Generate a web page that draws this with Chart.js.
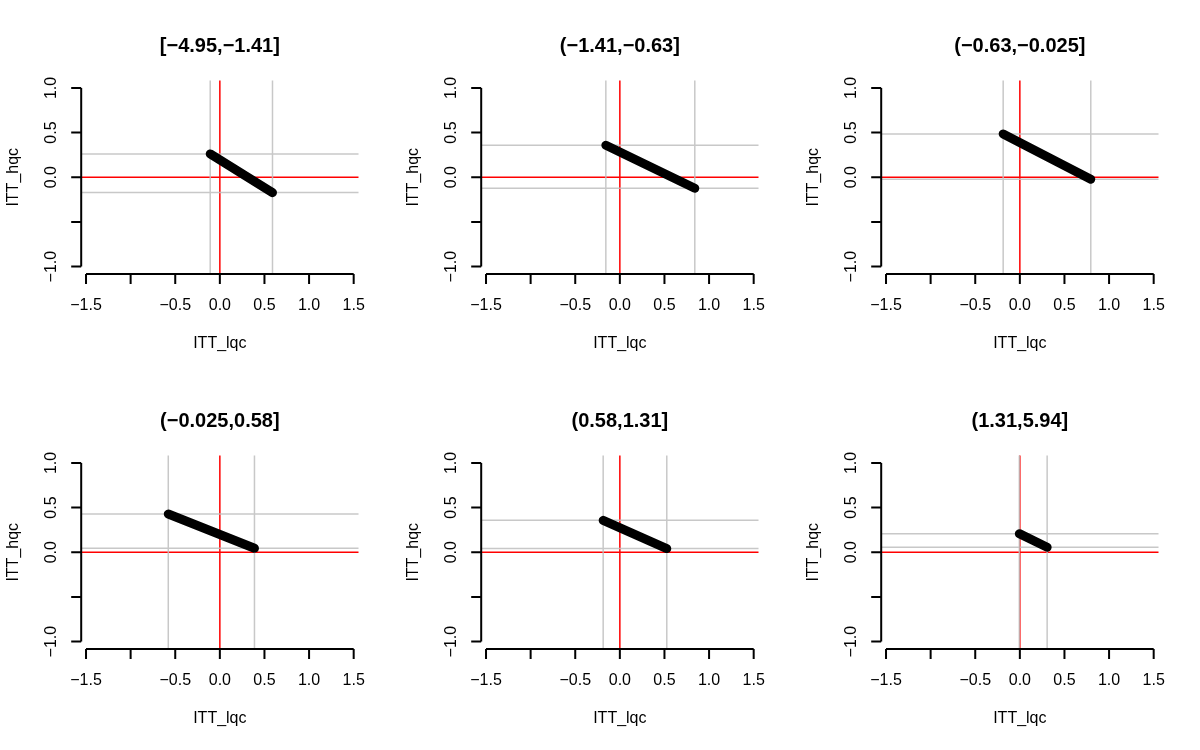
<!DOCTYPE html>
<html lang="en">

<head>
    <meta charset="UTF-8">
    <title>ITT_hqc vs ITT_lqc</title>
    <script src="https://cdn.jsdelivr.net/npm/chart.js"></script>
    <style>
        body {
            margin: 0;
            background: #ffffff;
        }
        #grid {
            position: relative;
            width: 1200px;
            height: 750px;
        }
        #grid canvas {
            position: absolute;
        }
    </style>
</head>

<body>

    <div id="grid"></div>

    <script>
        // panel data
        const panelTitles = ['[−4.95,−1.41]', '(−1.41,−0.63]', '(−0.63,−0.025]',
                             '(−0.025,0.58]', '(0.58,1.31]', '(1.31,5.94]'];
        const lqcStart = [-0.108, -0.157, -0.187, -0.578, -0.187, -0.006];
        const lqcEnd   = [0.590, 0.840, 0.795, 0.388, 0.526, 0.306];
        const hqcStart = [0.261, 0.358, 0.485, 0.428, 0.357, 0.208];
        const hqcEnd   = [-0.172, -0.123, -0.022, 0.045, 0.041, 0.056];

        const xTicks = [-1.5, -1.0, -0.5, 0, 0.5, 1.0, 1.5];
        const xTickLabels = ['−1.5', '', '−0.5', '0.0', '0.5', '1.0', '1.5'];
        const yTicks = [-1.0, -0.5, 0, 0.5, 1.0];
        const yTickLabels = ['−1.0', '', '0.0', '0.5', '1.0'];

        const xLabel = 'ITT_lqc';
        const yLabel = 'ITT_hqc';

        const FONT = '"Liberation Sans", Arial, Helvetica, sans-serif';

        // R style axes, reference lines and titles
        const rStyle = {
            id: 'rStyle',
            beforeDatasetsDraw(chart, args, opts) {
                const { ctx, chartArea: a, scales: { x, y } } = chart;
                const i = opts.panel;
                ctx.save();
                ctx.lineWidth = 1.5;
                // red zero lines
                ctx.strokeStyle = '#ff0000';
                ctx.beginPath();
                ctx.moveTo(x.getPixelForValue(0), a.top);
                ctx.lineTo(x.getPixelForValue(0), a.bottom);
                ctx.moveTo(a.left, y.getPixelForValue(0));
                ctx.lineTo(a.right, y.getPixelForValue(0));
                ctx.stroke();
                // gray lines through the segment ends
                ctx.strokeStyle = 'rgba(190,190,190,0.85)';
                ctx.beginPath();
                [lqcStart[i], lqcEnd[i]].forEach(v => {
                    ctx.moveTo(x.getPixelForValue(v), a.top);
                    ctx.lineTo(x.getPixelForValue(v), a.bottom);
                });
                [hqcStart[i], hqcEnd[i]].forEach(v => {
                    ctx.moveTo(a.left, y.getPixelForValue(v));
                    ctx.lineTo(a.right, y.getPixelForValue(v));
                });
                ctx.stroke();
                ctx.restore();
            },
            afterDraw(chart, args, opts) {
                const { ctx, chartArea: a, scales: { x, y } } = chart;
                const i = opts.panel;
                ctx.save();
                ctx.strokeStyle = '#000000';
                ctx.fillStyle = '#000000';
                ctx.lineWidth = 2;

                // x axis
                ctx.beginPath();
                ctx.moveTo(x.getPixelForValue(xTicks[0]), a.bottom);
                ctx.lineTo(x.getPixelForValue(xTicks[xTicks.length - 1]), a.bottom);
                xTicks.forEach(t => {
                    ctx.moveTo(x.getPixelForValue(t), a.bottom);
                    ctx.lineTo(x.getPixelForValue(t), a.bottom + 10);
                });
                ctx.stroke();
                ctx.font = '16px ' + FONT;
                ctx.textAlign = 'center';
                ctx.textBaseline = 'middle';
                xTicks.forEach((t, k) => {
                    ctx.fillText(xTickLabels[k], x.getPixelForValue(t), a.bottom + 31.5);
                });

                // y axis
                ctx.beginPath();
                ctx.moveTo(a.left, y.getPixelForValue(yTicks[0]));
                ctx.lineTo(a.left, y.getPixelForValue(yTicks[yTicks.length - 1]));
                yTicks.forEach(t => {
                    ctx.moveTo(a.left, y.getPixelForValue(t));
                    ctx.lineTo(a.left - 10, y.getPixelForValue(t));
                });
                ctx.stroke();
                yTicks.forEach((t, k) => {
                    ctx.save();
                    ctx.translate(a.left - 30, y.getPixelForValue(t));
                    ctx.rotate(-Math.PI / 2);
                    ctx.fillText(yTickLabels[k], 0, 0);
                    ctx.restore();
                });

                // axis titles
                const cx = (a.left + a.right) / 2;
                const cy = (a.top + a.bottom) / 2;
                ctx.textBaseline = 'alphabetic';
                ctx.fillText(xLabel, cx, a.bottom + 73.5);
                ctx.save();
                ctx.translate(18.3, cy);
                ctx.rotate(-Math.PI / 2);
                ctx.fillText(yLabel, 0, 0);
                ctx.restore();

                // panel title
                ctx.font = 'bold 20px ' + FONT;
                ctx.fillText(panelTitles[i], cx, 51.5);
                ctx.restore();
            }
        };

        const grid = document.getElementById('grid');

        panelTitles.forEach((title, i) => {
            const canvas = document.createElement('canvas');
            canvas.width = 400;
            canvas.height = 375;
            canvas.style.left = (i % 3) * 400 + 'px';
            canvas.style.top = Math.floor(i / 3) * 375 + 'px';
            grid.appendChild(canvas);

            new Chart(canvas.getContext('2d'), {
                type: 'scatter',
                data: {
                    datasets: [{
                        data: [
                            { x: lqcStart[i], y: hqcStart[i] },
                            { x: lqcEnd[i], y: hqcEnd[i] }
                        ],
                        showLine: true,
                        borderColor: '#000000',
                        borderWidth: 9,
                        borderCapStyle: 'round',
                        pointRadius: 0,
                        pointHoverRadius: 0
                    }]
                },
                options: {
                    responsive: false,
                    animation: false,
                    events: [],
                    layout: {
                        padding: { left: 81.2, right: 41.5, top: 80.5, bottom: 101 }
                    },
                    scales: {
                        x: { type: 'linear', min: -1.554, max: 1.554, display: false },
                        y: { type: 'linear', min: -1.083, max: 1.083, display: false }
                    },
                    plugins: {
                        legend: { display: false },
                        tooltip: { enabled: false },
                        rStyle: { panel: i }
                    }
                },
                plugins: [rStyle]
            });
        });
    </script>

</body>

</html>
